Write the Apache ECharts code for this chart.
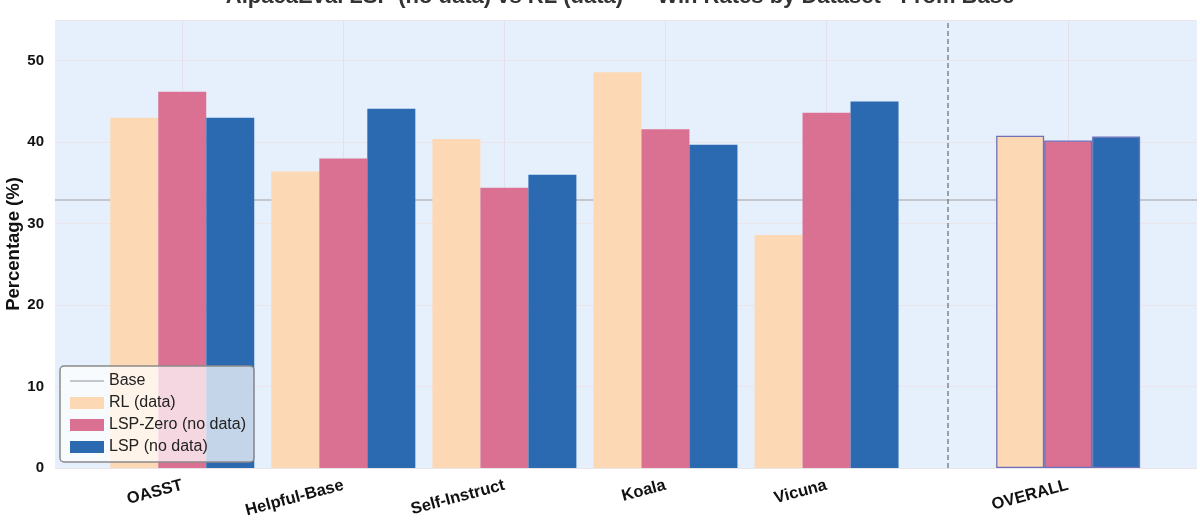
<!DOCTYPE html>
<html><head><meta charset="utf-8">
<script src="https://cdn.jsdelivr.net/npm/echarts@6/dist/echarts.min.js"></script>
<style>html,body{margin:0;padding:0;background:#fff}#c{width:1200px;height:523px}</style>
</head><body><div id="c"></div>
<script>
var categories = ['OASST','Helpful-Base','Self-Instruct','Koala','Vicuna','OVERALL'];
var catPos = [0,1,2,3,4,5.5];
var rlData = [43.0,36.4,40.4,48.6,28.6,40.8];
var lspZeroData = [46.2,38.0,34.4,41.6,43.6,40.2];
var lspData = [43.0,44.1,36.0,39.7,45.0,40.7];
var baseValue = 32.9;
var yTicks = [0,10,20,30,40,50];
var separatorPos = 4.75;

var off = 0.298;
function mk(vals, shift, color){
  return vals.map(function(v,i){
    var d = {value:[catPos[i]+shift, v]};
    if (i === vals.length-1) d.itemStyle = {borderColor:'#6e72b8', borderWidth:1.3, color: color};
    return d;
  });
}
var chart = echarts.init(document.getElementById('c'));
var FONT = 'Liberation Sans';
chart.setOption({
  animation:false,
  textStyle:{fontFamily:FONT},
  title:{text:'AlpacaEval LSP (no data) vs RL (data) — Win Rates by Dataset - From Base', left:615, textAlign:'center', top:-19,
    textStyle:{fontFamily:FONT,fontSize:22,fontWeight:'bold',color:'#333'}},
  grid:{left:55,right:3,top:20,bottom:55,show:true,backgroundColor:'#e6f0fc',borderWidth:0,outerBoundsMode:'none',containLabel:false},
  legend:{orient:'vertical',left:60,top:366,itemWidth:34,itemHeight:12,itemGap:6,
    backgroundColor:'rgba(255,255,255,0.72)',borderColor:'#8a8a8a',borderWidth:1.5,borderRadius:4,
    padding:[7,8,7,10],
    textStyle:{fontFamily:FONT,fontSize:16,color:'#222'},
    data:[{name:'Base',icon:'path://M0,5 L32,5 L32,7 L0,7 Z'},{name:'RL (data)',icon:'rect'},{name:'LSP-Zero (no data)',icon:'rect'},{name:'LSP (no data)',icon:'rect'}]},
  xAxis:{type:'value',min:-0.79,max:6.3,
    axisLine:{show:false},axisTick:{show:false},splitLine:{show:false},
    axisLabel:{customValues:catPos,rotate:15,margin:17,fontFamily:FONT,fontSize:16.5,fontWeight:'bold',color:'#111',
      formatter:function(v){var i=catPos.indexOf(v);return i>=0?categories[i]:'';}}},
  yAxis:{type:'value',min:0,max:55,interval:10,
    name:'Percentage (%)',nameLocation:'middle',nameGap:32,nameMoveOverlap:false,
    nameTextStyle:{fontFamily:FONT,fontSize:18.5,fontWeight:'bold',color:'#111'},
    axisLine:{show:false},axisTick:{show:false},
    axisLabel:{fontFamily:FONT,fontSize:15,fontWeight:'bold',color:'#111',margin:11,
      formatter:function(v){return yTicks.indexOf(v)>=0?String(v):'';}},
    splitLine:{lineStyle:{color:'#ebe4ec',width:1}}},
  series:[
    {name:'Base',type:'line',symbol:'none',data:[],itemStyle:{color:'#c3c6cc'},lineStyle:{color:'#c3c6cc',width:2},
      markLine:{silent:true,symbol:'none',label:{show:false},z:1,
        data:[{yAxis:baseValue,lineStyle:{color:'#c3c6cc',width:2,type:'solid'}}].concat(
          catPos.map(function(p){return {xAxis:p,lineStyle:{color:'#e4dfe8',width:1,type:'solid'}};}),
          [{xAxis:separatorPos,lineStyle:{color:'#7e868e',width:1.5,type:[5,3]}}])}},
    {name:'RL (data)',type:'bar',barWidth:48,barGap:'-100%',itemStyle:{color:'#fdd8b5'},data:mk(rlData,-off,'#fdd8b5'),z:3},
    {name:'LSP-Zero (no data)',type:'bar',barWidth:48,barGap:'-100%',itemStyle:{color:'#db7192'},data:mk(lspZeroData,0,'#db7192'),z:3},
    {name:'LSP (no data)',type:'bar',barWidth:48,barGap:'-100%',itemStyle:{color:'#2b6ab0'},data:mk(lspData,off,'#2b6ab0'),z:3}
  ]
});
</script></body></html>
